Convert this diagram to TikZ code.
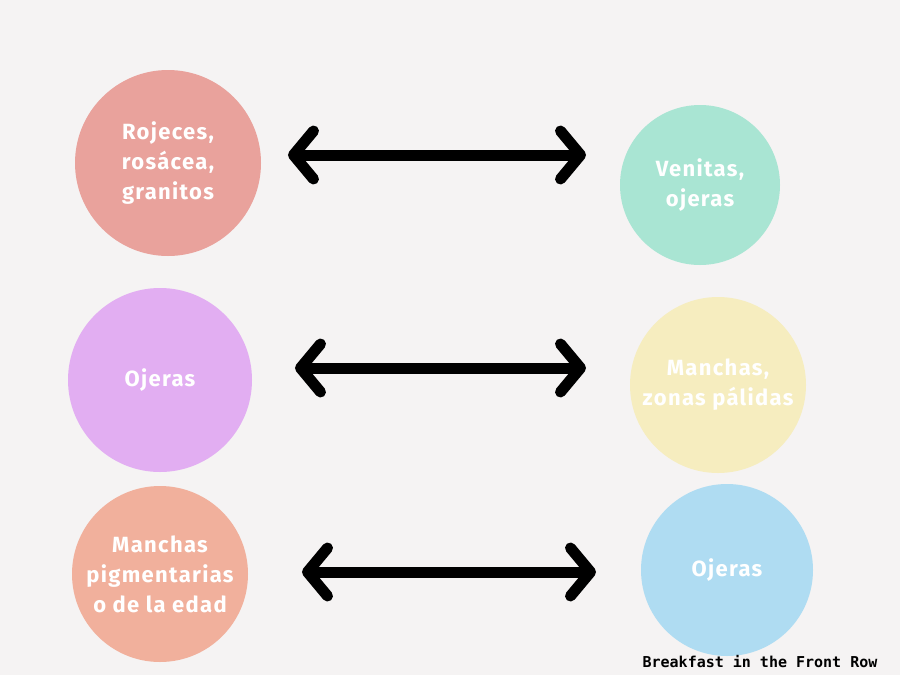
\documentclass[tikz,border=0pt]{standalone}
\usepackage{fontspec}
\setmainfont{Fira Sans}
\newfontfamily\monof{DejaVu Sans Mono}
\usetikzlibrary{arrows.meta}
\definecolor{bg}{HTML}{F5F3F3}
\definecolor{cA}{HTML}{E9A29C}
\definecolor{cB}{HTML}{A9E5D3}
\definecolor{cC}{HTML}{E2AEF2}
\definecolor{cD}{HTML}{F6EDBF}
\definecolor{cE}{HTML}{F1B09C}
\definecolor{cF}{HTML}{AFDCF2}
\tikzset{
 bub/.style={circle,inner sep=0pt,text=white,font=\bfseries\addfontfeatures{LetterSpace=6}\fontsize{22}{30}\selectfont,align=center},
 dbl/.style={line width=11pt,line cap=round,{Straight Barb[length=20pt,width=48pt,line cap=round,line join=round]}-{Straight Barb[length=20pt,width=48pt,line cap=round,line join=round]}}
}
\begin{document}
\begin{tikzpicture}[x=1pt,y=-1pt]
\useasboundingbox (0,0) rectangle (900,675);
\fill[bg] (0,0) rectangle (900,675);
\node[bub,fill=cA,minimum size=186pt] (a) at (168,163) {Rojeces,\\rosácea,\\granitos};
\node[bub,fill=cB,minimum size=160pt] (b) at (700,185) {Venitas,\\ojeras};
\node[bub,fill=cC,minimum size=184pt] (c) at (160,380) {Ojeras};
\node[bub,fill=cD,minimum size=176pt] (d) at (718,385) {Manchas,\\zonas pálidas};
\node[bub,fill=cE,minimum size=176pt] (e) at (160,574) {Manchas\\pigmentarias\\o de la edad};
\node[bub,fill=cF,minimum size=172pt] (f) at (727,570) {Ojeras};
\coordinate (a1) at (288,155); \coordinate (b1) at (586,155);
\coordinate (c1) at (295,368); \coordinate (d1) at (586,368);
\coordinate (e1) at (302,572); \coordinate (f1) at (596,572);
\draw[dbl] (a1) -- (b1);
\draw[dbl] (c1) -- (d1);
\draw[dbl] (e1) -- (f1);
\node[font=\monof\bfseries\fontsize{15}{17}\selectfont] (cr) at (760,661) {Breakfast in the Front Row};
\end{tikzpicture}
\end{document}
